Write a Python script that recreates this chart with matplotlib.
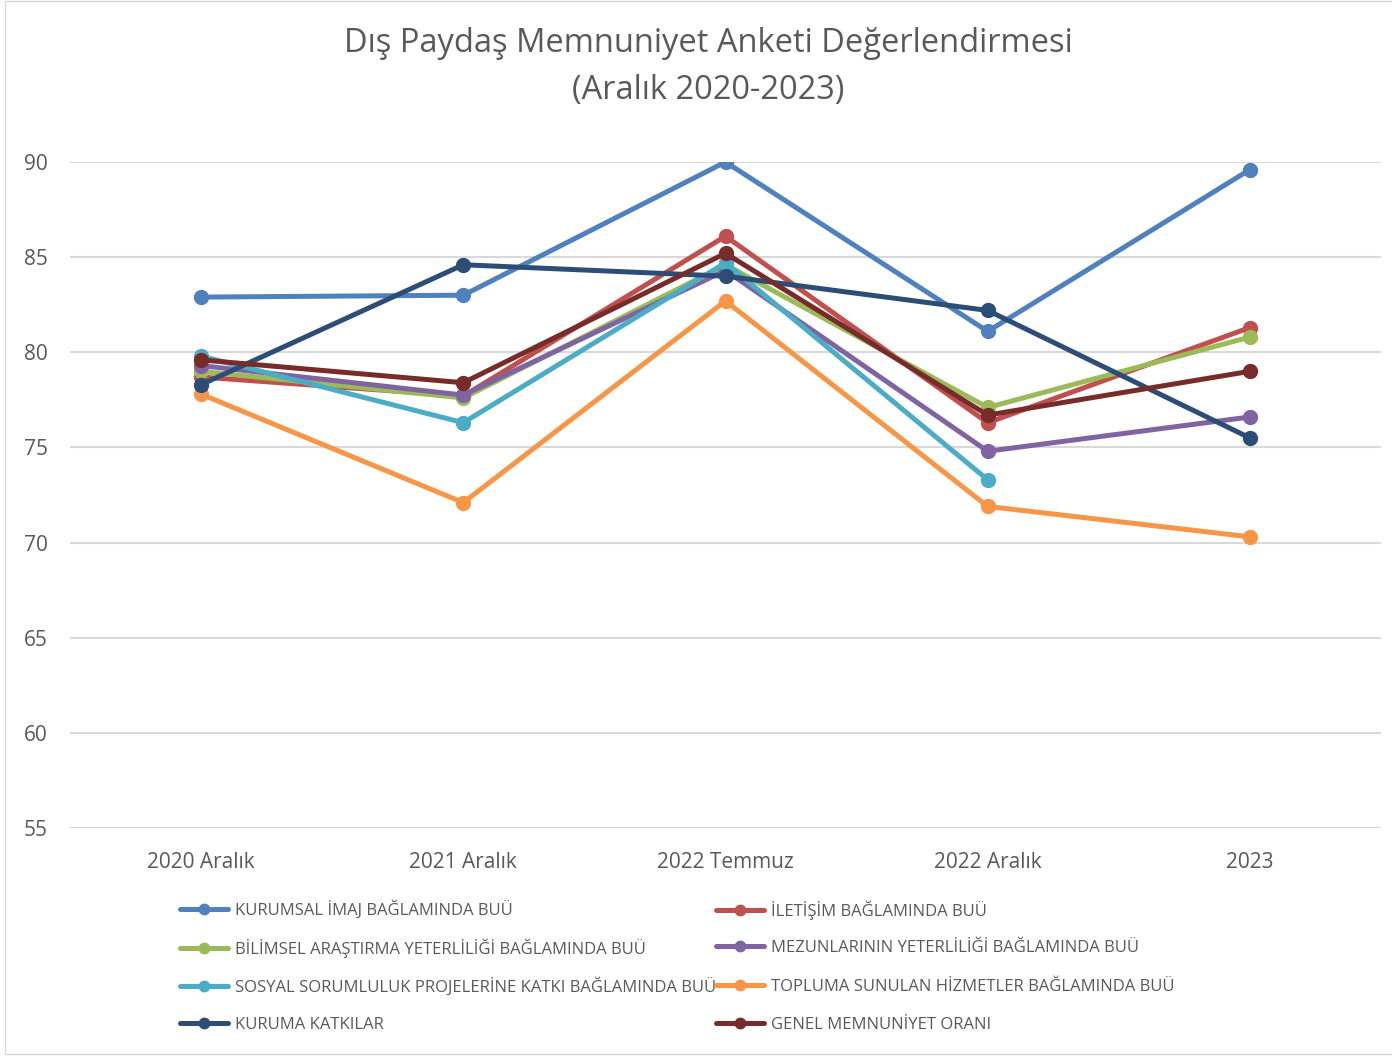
import numpy as np
import matplotlib.pyplot as plt
from matplotlib.patches import Rectangle

plt.rcParams['font.family'] = ['Open Sans', 'DejaVu Sans']

categories = ['2020 Aralık', '2021 Aralık', '2022 Temmuz', '2022 Aralık', '2023']

kurumsal = [82.9, 83.0, 90.0, 81.1, 89.6]
iletisim = [78.7, 77.7, 86.1, 76.3, 81.3]
bilimsel = [79.0, 77.6, 84.6, 77.1, 80.8]
mezunlar = [79.3, 77.75, 84.3, 74.8, 76.6]
sosyal = [79.8, 76.3, 84.7, 73.3, np.nan]
topluma = [77.8, 72.1, 82.7, 71.9, 70.3]
kuruma = [78.3, 84.6, 84.0, 82.2, 75.5]
genel = [79.6, 78.4, 85.2, 76.7, 79.0]

labels = ['KURUMSAL İMAJ BAĞLAMINDA BUÜ', 'İLETİŞİM BAĞLAMINDA BUÜ',
          'BİLİMSEL ARAŞTIRMA YETERLİLİĞİ BAĞLAMINDA BUÜ', 'MEZUNLARININ YETERLİLİĞİ BAĞLAMINDA BUÜ',
          'SOSYAL SORUMLULUK PROJELERİNE KATKI BAĞLAMINDA BUÜ', 'TOPLUMA SUNULAN HİZMETLER BAĞLAMINDA BUÜ',
          'KURUMA KATKILAR', 'GENEL MEMNUNİYET ORANI']
colors = ['#4F81BD', '#C0504D', '#9BBB59', '#8064A2', '#4BACC6', '#F79646', '#2C4D75', '#772C2A']
series = [kurumsal, iletisim, bilimsel, mezunlar, sosyal, topluma, kuruma, genel]

txt = '#595959'
fig = plt.figure(figsize=(13.92, 10.56), dpi=100)
ax = fig.add_axes([70 / 1392, 1 - 828 / 1056, 1311 / 1392, 666 / 1056])

x = np.arange(len(categories))
handles = []
for vals, c, lab in zip(series, colors, labels):
    h, = ax.plot(x, vals, color=c, lw=3.6, marker='o', ms=10, label=lab, solid_capstyle='round')
    handles.append(h)

ax.set_xlim(-0.5, len(categories) - 0.5)
ax.set_ylim(55, 90)
ax.set_yticks(range(55, 91, 5))
ax.set_xticks(x)
ax.set_xticklabels(categories)
ax.grid(axis='y', color='#D9D9D9', lw=1.5)
ax.set_axisbelow(True)
for s in ax.spines.values():
    s.set_visible(False)
ax.tick_params(length=0, labelsize=15, colors=txt)
ax.tick_params(axis='y', pad=16)
ax.tick_params(axis='x', pad=17)

fig.text(708 / 1392, 1 - 44 / 1056, 'Dış Paydaş Memnuniyet Anketi Değerlendirmesi',
         ha='center', va='center', fontsize=23.5, color=txt)
fig.text(708 / 1392, 1 - 90 / 1056, '(Aralık 2020-2023)',
         ha='center', va='center', fontsize=23.5, color=txt)

# legend: two columns filled row by row, every entry placed on its own so rows line up
col_x = [180 / 1392, 716 / 1392]
row_y = [1 - 910 / 1056, 1 - 948 / 1056, 1 - 987 / 1056, 1 - 1025 / 1056]
for i, (h, lab) in enumerate(zip(handles, labels)):
    fig.legend([h], [lab], loc='center left', bbox_to_anchor=(col_x[i % 2], row_y[i // 2]),
               frameon=False, fontsize=12, labelcolor=txt, handlelength=2.9,
               handletextpad=0.4, borderpad=0, borderaxespad=0, markerscale=0.75)

fig.patches.append(Rectangle((5 / 1392, 2 / 1056), 1.0, 1 - 3 / 1056, transform=fig.transFigure,
                             fill=False, edgecolor='#D9D9D9', lw=1))

fig.savefig('out.png', dpi=100)
